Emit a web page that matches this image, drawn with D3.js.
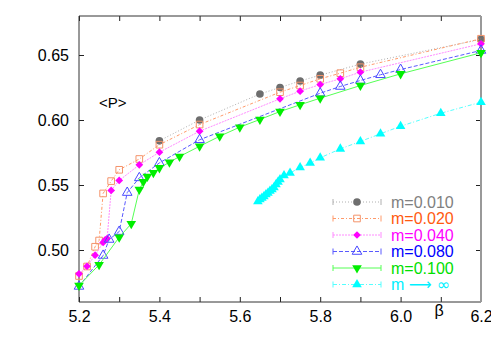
<!DOCTYPE html>
<html>
<head>
<meta charset="utf-8">
<script src="https://cdn.jsdelivr.net/npm/d3@7"></script>
<style>
  body { margin: 0; background: #fff; }
  svg { font-family: "Liberation Sans", Arial, sans-serif; }
  .axis path { display: none; }
  .axis line { stroke: #222; }
  .axis text { font-size: 16px; fill: #000; }
</style>
</head>
<body>
<svg id="chart"></svg>
<script>
// values (beta, <P>)
const beta010 = [5.4, 5.5, 5.65, 5.7, 5.75, 5.8, 5.9, 6.2];
const p010 = [0.584, 0.600, 0.620, 0.625, 0.630, 0.6345, 0.643, 0.662];

const beta020 = [5.2, 5.22, 5.24, 5.25, 5.26, 5.28, 5.30, 5.35, 5.40, 5.50, 5.70, 5.75, 5.80, 5.85, 5.90, 6.2];
const p020 = [0.480, 0.4873, 0.5025, 0.5073, 0.5435, 0.553, 0.5617, 0.570, 0.581, 0.5965, 0.6214, 0.6265, 0.6317, 0.636, 0.6406, 0.6625];

const beta040 = [5.2, 5.22, 5.24, 5.26, 5.265, 5.27, 5.28, 5.30, 5.35, 5.40, 5.50, 5.70, 5.75, 5.80, 5.85, 5.90, 6.2];
const p040 = [0.4817, 0.4875, 0.496, 0.5058, 0.5077, 0.5088, 0.5458, 0.5535, 0.5655, 0.5752, 0.5914, 0.6163, 0.6222, 0.6273, 0.6317, 0.6368, 0.6586];

const beta080 = [5.2, 5.26, 5.275, 5.30, 5.32, 5.35, 5.40, 5.50, 5.80, 5.85, 5.90, 5.95, 6.00, 6.2];
const p080 = [0.472, 0.4958, 0.5081, 0.5142, 0.5442, 0.5555, 0.567, 0.5848, 0.6206, 0.6258, 0.6304, 0.6348, 0.6388, 0.6535];

const beta100 = [5.2, 5.25, 5.30, 5.33, 5.35, 5.36, 5.37, 5.385, 5.40, 5.425, 5.45, 5.50, 5.55, 5.60, 5.65, 5.70, 5.75, 5.80, 5.90, 6.00, 6.2];
const p100 = [0.4727, 0.4886, 0.5098, 0.5202, 0.5465, 0.5525, 0.5565, 0.5594, 0.5632, 0.5675, 0.5719, 0.5798, 0.5875, 0.5945, 0.6004, 0.6065, 0.6117, 0.6168, 0.6265, 0.6355, 0.6517];

const betaInf = [5.645, 5.65, 5.655, 5.66, 5.665, 5.67, 5.675, 5.68, 5.685, 5.69, 5.695, 5.70, 5.71, 5.725, 5.75, 5.775, 5.80, 5.85, 5.90, 5.95, 6.00, 6.10, 6.20];
const pInf = [0.5373, 0.5388, 0.5400, 0.5412, 0.5427, 0.5438, 0.5454, 0.5465, 0.5481, 0.5504, 0.5523, 0.5542, 0.5573, 0.5592, 0.5635, 0.5669, 0.5709, 0.5778, 0.5835, 0.5894, 0.5952, 0.6052, 0.6137];

const xTicks = [5.2, 5.3, 5.4, 5.5, 5.6, 5.7, 5.8, 5.9, 6.0, 6.1, 6.2];
const xLabels = [5.2, 5.4, 5.6, 5.8, 6.0, 6.2];
const yTicks = [0.50, 0.55, 0.60, 0.65];

// series styling
const series = [
  {label: ["m=0.010"], x: beta010, y: p010, line: "#b0b0b0", dash: "1,2", text: "#808080",
   sym: d3.symbolCircle, size: 46, fill: "#6e6e6e", stroke: "none"},
  {label: ["m=0.020"], x: beta020, y: p020, line: "#ff9a6a", dash: "3,2,1,2", text: "#ff5a10",
   sym: d3.symbolSquare, size: 44, fill: "none", stroke: "#f4936a"},
  {label: ["m=0.040"], x: beta040, y: p040, line: "#ff8cff", dash: "2,1", text: "#ff00ff",
   sym: d3.symbolSquare, size: 30, fill: "#ff00ff", stroke: "none", rot: 45},
  {label: ["m=0.080"], x: beta080, y: p080, line: "#5a5aff", dash: "4,2", text: "#0000ff",
   sym: d3.symbolTriangle, size: 40, fill: "none", stroke: "#4a4aff"},
  {label: ["m=0.100"], x: beta100, y: p100, line: "#55ff55", dash: null, text: "#00e000",
   sym: d3.symbolTriangle, size: 40, fill: "#00ee00", stroke: "none", rot: 180},
  {label: ["m ", "\u27f6", " \u221e"], x: betaInf, y: pInf, line: "#55ffff", dash: "4,2,1,2", text: "#00f0ff",
   sym: d3.symbolTriangle, size: 40, fill: "#00ffff", stroke: "none"}
];

const W = 491, H = 343;
const margin = {top: 16, right: 10, bottom: 41, left: 79};
const width = W - margin.left - margin.right;
const height = H - margin.top - margin.bottom;

const svg = d3.select("#chart").attr("width", W).attr("height", H);
const g = svg.append("g").attr("transform", `translate(${margin.left},${margin.top})`);

const x = d3.scaleLinear().domain([5.2, 6.2]).range([0, width]);
const y = d3.scaleLinear().domain([0.46, 0.68]).range([height, 0]);

// axes, ticks pointing inward
g.append("g").attr("class", "axis")
  .attr("transform", `translate(0,${height})`)
  .call(d3.axisBottom(x).tickValues(xTicks).tickSize(-5).tickPadding(9)
    .tickFormat(d => xLabels.some(v => Math.abs(v - d) < 1e-6) ? d3.format(".1f")(d) : ""));

g.append("g").attr("class", "axis")
  .call(d3.axisTop(x).tickValues(xTicks).tickSize(-5).tickFormat(""));

g.append("g").attr("class", "axis")
  .call(d3.axisLeft(y).tickValues(yTicks).tickSize(-5).tickPadding(10).tickFormat(d3.format(".2f")));

g.append("g").attr("class", "axis")
  .attr("transform", `translate(${width},0)`)
  .call(d3.axisRight(y).tickValues(yTicks).tickSize(-5).tickFormat(""));

// frame
g.append("path")
  .attr("d", `M${width},0H0V${height}H${width}`)
  .attr("fill", "none").attr("stroke", "#333").attr("stroke-width", 1);
g.append("line")
  .attr("x1", width).attr("x2", width).attr("y1", 0).attr("y2", height)
  .attr("stroke", "#999").attr("stroke-width", 2);

// axis labels
svg.append("text").attr("x", 439).attr("y", 316)
  .attr("text-anchor", "middle").style("font-size", "16px").text("\u03b2");
svg.append("text").attr("x", 99).attr("y", 108)
  .style("font-size", "15px").text("<P>");

const line = d3.line().x(d => x(d[0])).y(d => y(d[1]));

function marker(sel, s) {
  sel.attr("d", d3.symbol().type(s.sym).size(s.size))
    .attr("fill", s.fill)
    .attr("stroke", s.stroke)
    .attr("stroke-width", 1);
}

series.forEach(s => {
  const pts = s.x.map((b, i) => [b, s.y[i]]);
  g.append("path")
    .datum(pts)
    .attr("d", line)
    .attr("fill", "none")
    .attr("stroke", s.line)
    .attr("stroke-width", 1)
    .attr("stroke-dasharray", s.dash);

  g.selectAll(null)
    .data(pts)
    .join("path")
    .attr("transform", d => `translate(${x(d[0])},${y(d[1])}) rotate(${s.rot || 0})`)
    .call(marker, s);
});

// legend
const legend = svg.append("g").attr("transform", "translate(333,202)");
series.forEach((s, i) => {
  const row = legend.append("g").attr("transform", `translate(0,${i * 16.5})`);
  row.append("line").attr("x1", 0).attr("x2", 48)
    .attr("stroke", s.line).attr("stroke-dasharray", s.dash);
  [0, 48].forEach(cx => row.append("line")
    .attr("x1", cx).attr("x2", cx).attr("y1", -3).attr("y2", 3)
    .attr("stroke", s.line));
  row.append("path")
    .attr("transform", `translate(24,0) rotate(${s.rot || 0})`)
    .call(marker, s);
  const t = row.append("text")
    .attr("x", 58).attr("y", 5.5)
    .style("font-size", "16px")
    .attr("fill", s.text);
  // the arrow and infinity come out tiny in Liberation, use DejaVu for them
  s.label.forEach((part, j) => t.append("tspan")
    .style("font-family", j > 0 ? "'DejaVu Sans'" : null)
    .text(part));
});
</script>
</body>
</html>
